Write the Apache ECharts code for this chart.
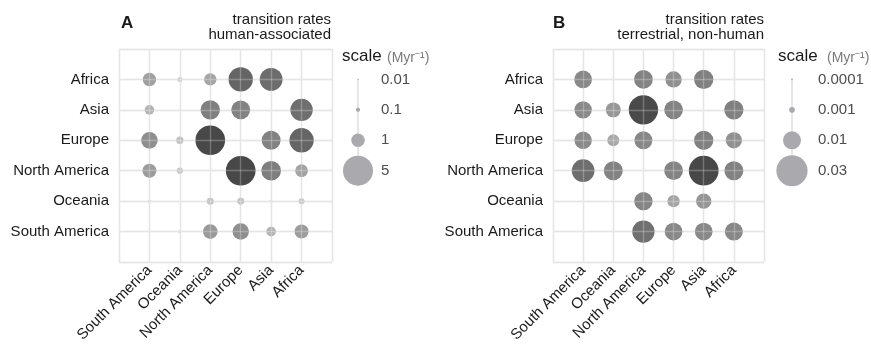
<!DOCTYPE html>
<html>
<head>
<meta charset="utf-8">
<script src="https://cdn.jsdelivr.net/npm/echarts@6/dist/echarts.min.js"></script>
<style>
  html, body { margin: 0; padding: 0; background: #ffffff; }
  #chart { width: 871px; height: 349px; }
</style>
</head>
<body>
<div id="chart"></div>
<script>
// Origin regions (rows, top to bottom) and destination regions (columns, left to right)
const originRegions = ['Africa', 'Asia', 'Europe', 'North America', 'Oceania', 'South America'];
const destRegions = ['South America', 'Oceania', 'North America', 'Europe', 'Asia', 'Africa'];

// Panel A: human-associated transition rates (Myr^-1), one row per origin
const humanAfrica       = [1.0,  0.14, 0.85, 3.3,  2.9,  null];
const humanAsia         = [0.52, 0.02, 2.1,  2.0,  null, 2.8];
const humanEurope       = [1.55, 0.3,  4.9,  null, 2.0,  3.3];
const humanNorthAmerica = [1.1,  0.22, null, 4.9,  2.15, 0.9];
const humanOceania      = [0.06, null, 0.27, 0.27, 0.04, 0.2];
const humanSouthAmerica = [null, 0.06, 1.2,  1.5,  0.52, 1.1];

// Panel B: terrestrial, non-human transition rates (Myr^-1)
const wildAfrica       = [0.0097, null,   0.0108, 0.0082, 0.0115, null];
const wildAsia         = [0.0093, 0.0069, 0.0266, 0.0108, null,   0.0115];
const wildEurope       = [0.0093, 0.0044, 0.0100, null,   0.0115, 0.0082];
const wildNorthAmerica = [0.0159, 0.0111, null,   0.0108, 0.0272, 0.0111];
const wildOceania      = [null,   null,   0.0104, 0.0047, 0.0073, null];
const wildSouthAmerica = [null,   null,   0.0154, 0.0097, 0.0097, 0.0100];

// Size legends
const legendAValues = [0.01, 0.1, 1, 5];
const legendALabels = ['0.01', '0.1', '1', '5'];
const legendBValues = [0.0001, 0.001, 0.01, 0.03];
const legendBLabels = ['0.0001', '0.001', '0.01', '0.03'];

const FONT = '"Liberation Sans", Arial, Helvetica, sans-serif';
const GRID_COLOR = '#dcdcdc';
const LEGEND_DOT = '#aaaaae';

const humanRows = [humanAfrica, humanAsia, humanEurope, humanNorthAmerica, humanOceania, humanSouthAmerica];
const wildRows = [wildAfrica, wildAsia, wildEurope, wildNorthAmerica, wildOceania, wildSouthAmerica];

// Point area proportional to rate
const sizeA = v => 13.4 * Math.sqrt(v);
const sizeB = v => 180 * Math.sqrt(v);

function toPoints(rows) {
  const pts = [];
  rows.forEach((row, r) => row.forEach((v, c) => {
    if (v !== null) pts.push([c + 1, r + 1, v]);
  }));
  return pts;
}

// Grey shade darkens with rate, relative to the panel maximum
function shadeFn(maxVal) {
  return p => {
    const t = Math.sqrt(p.value[2] / maxVal);
    const g = Math.round(232 - 160 * t);
    return 'rgb(' + g + ',' + g + ',' + g + ')';
  };
}

const humanPts = toPoints(humanRows);
const wildPts = toPoints(wildRows);
const humanMax = Math.max(...humanPts.map(p => p[2]));
const wildMax = Math.max(...wildPts.map(p => p[2]));

const catLabel = list => v => (v >= 1 && v <= list.length ? list[v - 1] : '');

function mainX(grid) {
  return {
    type: 'value', gridIndex: grid, min: 0, max: 7, interval: 1, position: 'bottom',
    axisLine: { show: false }, axisTick: { show: false },
    axisLabel: { formatter: catLabel(destRegions), rotate: 45, margin: 6,
      fontFamily: FONT, fontSize: 15, color: '#1a1a1a', showMinLabel: true, showMaxLabel: true },
    splitLine: { show: true, lineStyle: { color: GRID_COLOR, width: 1.4 } }
  };
}
function mainY(grid) {
  return {
    type: 'value', gridIndex: grid, min: 0, max: 7, interval: 1, inverse: true, position: 'left',
    axisLine: { show: false }, axisTick: { show: false },
    axisLabel: { formatter: catLabel(originRegions), margin: 10,
      fontFamily: FONT, fontSize: 15, color: '#1a1a1a' },
    splitLine: { show: true, lineStyle: { color: GRID_COLOR, width: 1.4 } }
  };
}
// Faint light grid drawn above the points
function overlay(type, grid) {
  return {
    type: 'value', gridIndex: grid, min: 0, max: 7, interval: 1, z: 10,
    position: type === 'x' ? 'top' : 'right', inverse: type === 'y',
    axisLine: { show: false }, axisTick: { show: false }, axisLabel: { show: false },
    splitLine: { show: true, lineStyle: { color: 'rgba(255,255,255,0.25)', width: 1.4 } }
  };
}
function legendX(grid) {
  return { type: 'value', gridIndex: grid, min: 0, max: 2, show: false };
}
function legendY(grid, labels, margin) {
  return {
    type: 'value', gridIndex: grid, min: 0, max: 7, interval: 1, inverse: true, position: 'right',
    axisLine: { show: false }, axisTick: { show: false }, splitLine: { show: false },
    axisLabel: { formatter: catLabel(labels), margin: margin, align: 'left',
      fontFamily: FONT, fontSize: 15, color: '#4d4d4d' }
  };
}

const option = {
  animation: false,
  backgroundColor: '#ffffff',
  grid: [
    { left: 119, top: 49, width: 213, height: 213 },
    { left: 340, top: 49, width: 36, height: 213 },
    { left: 553, top: 49, width: 211, height: 213 },
    { left: 774, top: 49, width: 36, height: 213 }
  ],
  xAxis: [mainX(0), overlay('x', 0), legendX(1), mainX(2), overlay('x', 2), legendX(3)],
  yAxis: [mainY(0), overlay('y', 0), legendY(1, legendALabels, 5), mainY(2), overlay('y', 2), legendY(3, legendBLabels, 8)],
  series: [
    {
      type: 'scatter', xAxisIndex: 0, yAxisIndex: 0, data: humanPts,
      symbolSize: v => sizeA(v[2]), itemStyle: { color: shadeFn(humanMax), opacity: 1 }
    },
    {
      type: 'line', xAxisIndex: 2, yAxisIndex: 2, data: [[1, 1], [1, legendAValues.length]],
      symbol: 'none', lineStyle: { color: GRID_COLOR, width: 1.4 }, z: 1
    },
    {
      type: 'scatter', xAxisIndex: 2, yAxisIndex: 2,
      data: legendAValues.map((v, i) => [1, i + 1, v]),
      symbolSize: v => sizeA(v[2]), itemStyle: { color: LEGEND_DOT, opacity: 1 }
    },
    {
      type: 'scatter', xAxisIndex: 3, yAxisIndex: 3, data: wildPts,
      symbolSize: v => sizeB(v[2]), itemStyle: { color: shadeFn(wildMax), opacity: 1 }
    },
    {
      type: 'line', xAxisIndex: 5, yAxisIndex: 5, data: [[1, 1], [1, legendBValues.length]],
      symbol: 'none', lineStyle: { color: GRID_COLOR, width: 1.4 }, z: 1
    },
    {
      type: 'scatter', xAxisIndex: 5, yAxisIndex: 5,
      data: legendBValues.map((v, i) => [1, i + 1, v]),
      symbolSize: v => sizeB(v[2]), itemStyle: { color: LEGEND_DOT, opacity: 1 }
    }
  ],
  graphic: [
    { type: 'text', x: 121, y: 15, style: { text: 'A', font: 'bold 17px ' + FONT, fill: '#1a1a1a', verticalAlign: 'top' } },
    { type: 'text', x: 331, y: 12, style: { text: 'transition rates\nhuman-associated', font: '15px ' + FONT,
      lineHeight: 15, fill: '#1a1a1a', align: 'right', verticalAlign: 'top' } },
    { type: 'text', x: 553, y: 15, style: { text: 'B', font: 'bold 17px ' + FONT, fill: '#1a1a1a', verticalAlign: 'top' } },
    { type: 'text', x: 764, y: 12, style: { text: 'transition rates\nterrestrial, non-human', font: '15px ' + FONT,
      lineHeight: 15, fill: '#1a1a1a', align: 'right', verticalAlign: 'top' } },
    { type: 'text', x: 342, y: 48, style: { text: 'scale', font: '17px ' + FONT, fill: '#1a1a1a', verticalAlign: 'top' } },
    { type: 'text', x: 387, y: 51, style: { text: '(Myr\u207B\u00B9)', font: '14px ' + FONT, fill: '#7a7a7a', verticalAlign: 'top' } },
    { type: 'text', x: 778, y: 48, style: { text: 'scale', font: '17px ' + FONT, fill: '#1a1a1a', verticalAlign: 'top' } },
    { type: 'text', x: 827, y: 51, style: { text: '(Myr\u207B\u00B9)', font: '14px ' + FONT, fill: '#7a7a7a', verticalAlign: 'top' } }
  ]
};

const chart = echarts.init(document.getElementById('chart'), null, { renderer: 'canvas' });
chart.setOption(option);
</script>
</body>
</html>
